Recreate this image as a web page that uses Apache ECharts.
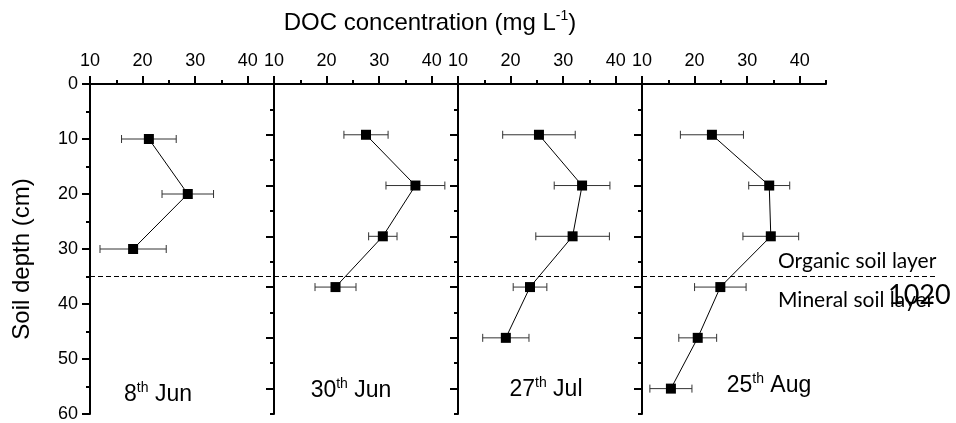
<!DOCTYPE html>
<html lang="en">
<head>
  <meta charset="UTF-8">
  <title>DOC profile</title>
  <style>
    html, body { margin: 0; width: 100%; height: 100%; background: #fff; }
    .chart { width: 956px; height: 423px; }
  </style>
</head>
<body>
  <div id="chart" class="chart"></div>
  <script src="https://cdn.jsdelivr.net/npm/echarts@6/dist/echarts.min.js"></script>
  <script>
    // sampling dates
    var dayLabels = ['8', '30', '27', '25'];
    var monthLabels = ['Jun', 'Jun', 'Jul', 'Aug'];

    // soil depth (cm) of each sample, one list per date
    var depthJun08 = [10, 20, 30];
    var depthJun30 = [10, 20, 30, 40];
    var depthJul27 = [10, 20, 30, 40, 50];
    var depthAug25 = [10, 20, 30, 40, 50, 60];

    // DOC concentration (mg/L)
    var docJun08 = [21.2, 28.6, 18.2];
    var docJun30 = [27.5, 36.9, 30.7, 21.7];
    var docJul27 = [25.4, 33.6, 31.8, 23.7, 19.1];
    var docAug25 = [23.3, 34.2, 34.5, 24.9, 20.6, 15.5];

    // error bars (+/-)
    var errJun08 = [5.2, 4.9, 6.3];
    var errJun30 = [4.2, 5.6, 2.7, 3.9];
    var errJul27 = [6.9, 5.3, 7.0, 3.2, 4.4];
    var errAug25 = [6.0, 3.9, 5.3, 4.9, 3.6, 4.0];

    // axis ticks
    var xMajor = [10, 20, 30, 40];
    var xMinor = [15, 25, 35, 45];
    var yMajor = [0, 10, 20, 30, 40, 50, 60];
    var yMinor60 = [5, 15, 25, 35, 45, 55];
    var yMinor65 = [5, 15, 25, 35, 45, 55, 65];
    var depthMax = [60, 65, 65, 65];

    // organic / mineral boundary (cm)
    var layerBoundary = 35;

    var depths = [depthJun08, depthJun30, depthJul27, depthAug25];
    var docs = [docJun08, docJun30, docJul27, docAug25];
    var errs = [errJun08, errJun30, errJul27, errAug25];

    var myChart = echarts.init(document.getElementById('chart'));
    var FONT = 'Liberation Sans, Arial, sans-serif';
    var panelLeft = 90, panelW = 184, plotTop = 84, plotH = 330;

    function renderErr(params, api) {
      var x = api.value(0), y = api.value(1), e = api.value(2);
      var p1 = api.coord([x - e, y]);
      var p2 = api.coord([x + e, y]);
      var st = { stroke: '#333', lineWidth: 1 };
      return {
        type: 'group',
        children: [
          { type: 'line', shape: { x1: p1[0], y1: p1[1], x2: p2[0], y2: p2[1] }, style: st },
          { type: 'line', shape: { x1: p1[0], y1: p1[1] - 4, x2: p1[0], y2: p1[1] + 4 }, style: st },
          { type: 'line', shape: { x1: p2[0], y1: p2[1] - 4, x2: p2[0], y2: p2[1] + 4 }, style: st }
        ]
      };
    }

    function axisLine() {
      return { show: true, onZero: false, lineStyle: { color: '#000', width: 2 } };
    }

    var grid = [], xAxis = [], yAxis = [], series = [], graphic = [];

    for (var i = 0; i < 4; i++) {
      var left = panelLeft + panelW * i;
      grid.push({ left: left, top: plotTop, width: panelW, height: plotH });
      // duplicate grid for the short ticks
      grid.push({ left: left, top: plotTop, width: panelW, height: plotH });
      var g = i * 2;

      xAxis.push({
        gridIndex: g, type: 'value', position: 'top', min: 10, max: 45,
        axisLine: axisLine(),
        axisTick: { customValues: xMajor, length: 8, lineStyle: { color: '#000', width: 2 } },
        axisLabel: { customValues: xMajor, fontSize: 18, color: '#000', fontFamily: FONT, margin: 14 },
        splitLine: { show: false }
      });
      xAxis.push({
        gridIndex: g + 1, type: 'value', position: 'top', min: 10, max: 45,
        axisLine: { show: false },
        axisTick: { customValues: xMinor, length: 4, lineStyle: { color: '#000', width: 2 } },
        axisLabel: { show: false },
        splitLine: { show: false }
      });
      yAxis.push({
        gridIndex: g, type: 'value', inverse: true, min: 0, max: depthMax[i], position: 'left',
        axisLine: axisLine(),
        axisTick: { customValues: yMajor, length: 8, lineStyle: { color: '#000', width: 2 } },
        axisLabel: i === 0
          ? { customValues: yMajor, fontSize: 18, color: '#000', fontFamily: FONT, margin: 12 }
          : { show: false },
        splitLine: { show: false }
      });
      yAxis.push({
        gridIndex: g + 1, type: 'value', inverse: true, min: 0, max: depthMax[i], position: 'left',
        axisLine: { show: false },
        axisTick: { customValues: i === 0 ? yMinor60 : yMinor65, length: 4, lineStyle: { color: '#000', width: 2 } },
        axisLabel: { show: false },
        splitLine: { show: false }
      });

      var errData = [], lineData = [];
      for (var k = 0; k < depths[i].length; k++) {
        errData.push([docs[i][k], depths[i][k], errs[i][k]]);
        lineData.push([docs[i][k], depths[i][k]]);
      }
      series.push({
        type: 'custom', xAxisIndex: g, yAxisIndex: g,
        renderItem: renderErr, data: errData, encode: { x: 0, y: 1 }, z: 2
      });
      series.push({
        type: 'line', xAxisIndex: g, yAxisIndex: g, data: lineData,
        symbol: 'rect', symbolSize: 10, showSymbol: true,
        lineStyle: { color: '#000', width: 1 }, itemStyle: { color: '#000' }, z: 3
      });
    }

    // full-width grid for the layer boundary
    grid.push({ left: panelLeft, top: plotTop, width: 848, height: plotH });
    xAxis.push({ gridIndex: 8, type: 'value', min: 0, max: 1, show: false });
    yAxis.push({ gridIndex: 8, type: 'value', inverse: true, min: 0, max: 60, show: false });
    series.push({
      type: 'line', xAxisIndex: 8, yAxisIndex: 8, symbol: 'none',
      data: [[0, layerBoundary], [1, layerBoundary]],
      lineStyle: { color: '#000', width: 1, type: [5, 3] }, z: 1
    });

    var labelPos = [[158, 395], [351, 391], [546, 390], [769, 386]];
    var sup = { fontSize: 14, fontFamily: FONT, fill: '#000', verticalAlign: 'top', lineHeight: 14 };
    for (var j = 0; j < 4; j++) {
      graphic.push({
        type: 'text', x: labelPos[j][0], y: labelPos[j][1],
        style: {
          text: '{a|' + dayLabels[j] + '}{s|th}{a| ' + monthLabels[j] + '}',
          rich: { a: { fontSize: 23, fontFamily: FONT, fill: '#000', lineHeight: 27 }, s: sup },
          align: 'center', verticalAlign: 'middle', textAlign: 'center', textVerticalAlign: 'middle'
        }
      });
    }

    graphic.push({
      type: 'text', x: 430, y: 23,
      style: {
        text: '{a|DOC concentration (mg L}{s|-1}{a|)}',
        rich: { a: { fontSize: 24, fontFamily: FONT, fill: '#000', lineHeight: 28 }, s: sup },
        align: 'center', verticalAlign: 'middle', textAlign: 'center', textVerticalAlign: 'middle'
      }
    });
    graphic.push({
      type: 'text', x: 22, y: 259, rotation: Math.PI / 2,
      style: {
        text: 'Soil depth (cm)', fontSize: 24, fontFamily: FONT, fill: '#000',
        align: 'center', verticalAlign: 'middle', textAlign: 'center', textVerticalAlign: 'middle'
      }
    });
    graphic.push({
      type: 'text', x: 778, y: 261,
      style: { text: 'Organic soil layer', fontSize: 21, fontFamily: 'Lato', fill: '#000',
        align: 'left', verticalAlign: 'middle', textAlign: 'left', textVerticalAlign: 'middle' }
    });
    graphic.push({
      type: 'text', x: 778, y: 300,
      style: { text: 'Mineral soil layer', fontSize: 21, fontFamily: 'Lato', fill: '#000',
        align: 'left', verticalAlign: 'middle', textAlign: 'left', textVerticalAlign: 'middle' }
    });
    graphic.push({
      type: 'text', x: 888, y: 295,
      style: { text: '1020', fontSize: 27, fontFamily: 'Lato', fill: '#000',
        align: 'left', verticalAlign: 'middle', textAlign: 'left', textVerticalAlign: 'middle' }
    });

    var option = {
      animation: false,
      grid: grid,
      xAxis: xAxis,
      yAxis: yAxis,
      series: series,
      graphic: graphic
    };
    myChart.setOption(option);

    window.addEventListener('resize', function () {
      myChart.resize();
    });
  </script>
</body>
</html>
